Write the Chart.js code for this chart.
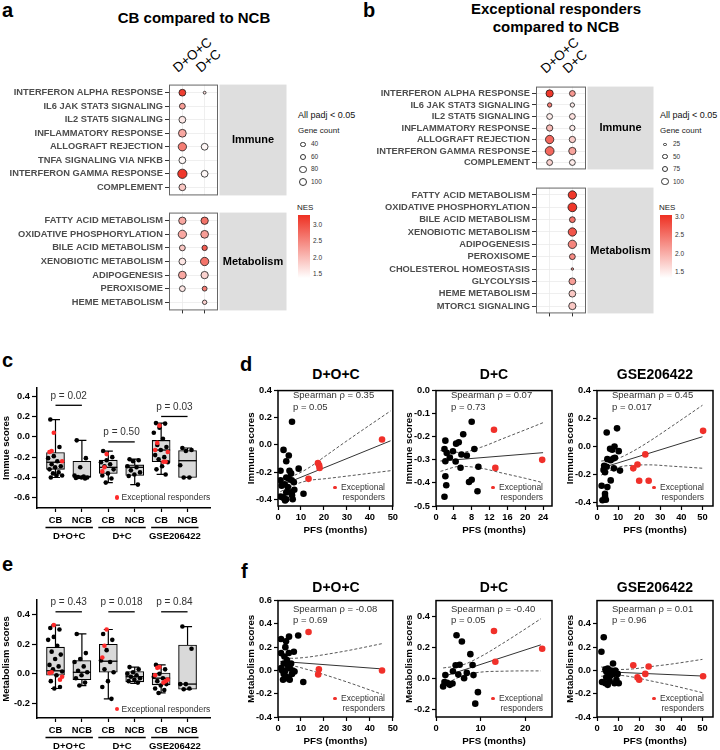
<!DOCTYPE html>
<html><head><meta charset="utf-8">
<script src="https://cdn.jsdelivr.net/npm/chart.js@4.4.1/dist/chart.umd.min.js"></script>
<style>
body{margin:0;width:720px;height:750px;position:relative;background:#fff;font-family:'Liberation Sans',Arial,sans-serif;overflow:hidden;-webkit-font-smoothing:antialiased}
canvas{position:absolute}
.t{position:absolute;white-space:nowrap;line-height:1}
.dot{position:absolute;border-radius:50%}
</style></head><body>
<script>
// ================= DATA =================
// ---- panel a: CB compared to NCB ----
const aImmunePathways = ['INTERFERON ALPHA RESPONSE','IL6 JAK STAT3 SIGNALING','IL2 STAT5 SIGNALING','INFLAMMATORY RESPONSE','ALLOGRAFT REJECTION','TNFA SIGNALING VIA NFKB','INTERFERON GAMMA RESPONSE','COMPLEMENT'];
const aMetabPathways = ['FATTY ACID METABOLISM','OXIDATIVE PHOSPHORYLATION','BILE ACID METABOLISM','XENOBIOTIC METABOLISM','ADIPOGENESIS','PEROXISOME','HEME METABOLISM'];
const cohorts = ['D+O+C','D+C'];
const aImmNesDOC = [3.2,2.3,1.6,2.2,2.6,1.45,3.25,1.9];
const aImmCntDOC = [69,51,69,90,102,69,128,69];
const aImmNesDC  = [1.7,null,null,null,1.45,null,1.45,null];
const aImmCntDC  = [12,null,null,null,69,null,69,null];
const aMetNesDOC = [2.2,2.2,1.9,1.6,2.2,1.6,null];
const aMetCntDOC = [80,102,51,69,90,51,null];
const aMetNesDC  = [2.7,2.3,2.9,2.7,1.8,2.6,1.8];
const aMetCntDC  = [80,90,43,102,80,35,29];
const aNesRange = [1.37,3.33];
const aCountLegend = [40,60,80,100];
// ---- panel b: Exceptional responders compared to NCB ----
const bImmunePathways = ['INTERFERON ALPHA RESPONSE','IL6 JAK STAT3 SIGNALING','IL2 STAT5 SIGNALING','INFLAMMATORY RESPONSE','ALLOGRAFT REJECTION','INTERFERON GAMMA RESPONSE','COMPLEMENT'];
const bMetabPathways = ['FATTY ACID METABOLISM','OXIDATIVE PHOSPHORYLATION','BILE ACID METABOLISM','XENOBIOTIC METABOLISM','ADIPOGENESIS','PEROXISOME','CHOLESTEROL HOMEOSTASIS','GLYCOLYSIS','HEME METABOLISM','MTORC1 SIGNALING'];
const bImmNesDOC = [3.0,2.4,1.5,1.9,2.6,2.6,1.7];
const bImmCntDOC = [100,36,64,75,129,145,64];
const bImmNesDC  = [2.2,1.5,1.6,1.5,1.75,2.1,1.5];
const bImmCntDC  = [64,36,64,54,75,100,64];
const bMetNesDOC = [null,null,null,null,null,null,null,null,null,null];
const bMetCntDOC = [null,null,null,null,null,null,null,null,null,null];
const bMetNesDC  = [3.0,3.0,2.5,2.75,2.35,2.3,2.2,2.15,1.8,1.8];
const bMetCntDC  = [129,145,64,129,129,64,11,87,87,100];
const bNesRange = [1.34,3.06];
const bCountLegend = [25,50,75,100];
const nesTicks = [1.5,2.0,2.5,3.0];
// ---- panels c / e: box plots ----
const boxCategories = ['CB','NCB','CB','NCB','CB','NCB'];
const boxGroups = ['D+O+C','D+C','GSE206422'];
const cMin = [-0.40,-0.41,-0.45,-0.47,-0.37,-0.40];
const cQ1  = [-0.32,-0.40,-0.36,-0.38,-0.245,-0.40];
const cMed = [-0.25,-0.39,-0.30,-0.30,-0.13,-0.235];
const cQ3  = [-0.155,-0.24,-0.23,-0.276,-0.035,-0.135];
const cMax = [0.17,-0.035,-0.14,-0.22,0.135,-0.11];
const cBlack = [
  [0.17,-0.10,-0.19,-0.21,-0.24,-0.27,-0.29,-0.30,-0.32,-0.35,-0.36,-0.38,-0.38,-0.40],
  [-0.035,-0.21,-0.30,-0.38,-0.39,-0.395,-0.40,-0.40,-0.405,-0.41],
  [-0.14,-0.20,-0.23,-0.25,-0.27,-0.29,-0.32,-0.36,-0.38,-0.41,-0.45],
  [-0.22,-0.23,-0.24,-0.29,-0.30,-0.33,-0.35,-0.37,-0.385,-0.47],
  [0.135,0.13,0.09,0.04,-0.02,-0.08,-0.10,-0.13,-0.18,-0.20,-0.22,-0.25,-0.29,-0.32,-0.37],
  [-0.11,-0.13,-0.14,-0.28,-0.40,-0.40]
];
const cRed = [[0.04,-0.14,-0.15,-0.24],[],[-0.17,-0.30,-0.34],[],[0.11,-0.06,-0.13,-0.15,-0.245,-0.245],[]];
const cPText = ['p = 0.02','p = 0.50','p = 0.03'];
const cPLineY = [0.31,-0.05,0.20];
const cYTicks = [-0.6,-0.4,-0.2,0.0,0.2,0.4];

const eMin = [-0.10,-0.08,-0.17,-0.065,-0.13,-0.105];
const eQ1  = [-0.01,-0.04,0.01,-0.055,-0.075,-0.105];
const eMed = [0.02,0.01,0.085,-0.02,-0.03,-0.07];
const eQ3  = [0.18,0.09,0.20,0.015,0.005,0.195];
const eMax = [0.33,0.27,0.30,0.045,0.06,0.32];
const eBlack = [
  [0.31,0.30,0.25,0.23,0.19,0.15,0.13,0.10,0.06,0.05,0.03,0.015,-0.01,-0.05,-0.09,-0.10],
  [0.27,0.14,0.10,0.08,0.05,0.02,0.01,-0.01,-0.03,-0.06,-0.08],
  [0.27,0.23,0.16,0.09,0.08,0.03,0.01,-0.05,-0.09,-0.17],
  [0.045,0.03,0.01,0.0,-0.01,-0.02,-0.03,-0.04,-0.05,-0.06],
  [0.06,0.03,0.0,-0.02,-0.03,-0.05,-0.07,-0.08,-0.10,-0.11,-0.13],
  [0.32,0.17,-0.07,-0.07,-0.10,-0.105]
];
const eRed = [[0.33,0.01,0.005,-0.02,-0.04],[],[0.30,0.19,0.11],[],[0.045,0.04,-0.01,-0.04,-0.05,-0.06],[]];
const ePText = ['p = 0.43','p = 0.018','p = 0.84'];
const ePLineY = [0.42,0.42,0.42];
const eYTicks = [-0.2,0.0,0.2,0.4];

// ---- panel d: immune scores vs PFS ----
const d1BlackPfs = [6.1,2.4,4.7,3.6,1.1,5.0,5.7,9.0,3.6,4.7,1.1,6.0,6.9,2.9,1.6,4.3,7.1,3.6,5.7,11.1,1.1,2.4,3.6,6.4,1.9,3.1,6.1];
const d1BlackScore = [0.17,-0.037,-0.078,-0.12,-0.19,-0.19,-0.21,-0.175,-0.24,-0.25,-0.26,-0.26,-0.275,-0.29,-0.30,-0.31,-0.33,-0.35,-0.35,-0.36,-0.38,-0.39,-0.40,-0.40,-0.385,-0.41,-0.37];
const d1RedPfs = [17.4,17.9,18.1,13.3,45.3];
const d1RedScore = [-0.134,-0.15,-0.17,-0.25,0.04];
const d1FitPfs = [1,49], d1FitScore = [-0.30,0.03];
const d1CiPfs = [1,7,13,20,30,49];
const d1CiUpper = [-0.255,-0.225,-0.173,-0.09,0.03,0.25];
const d1CiLower = [-0.345,-0.295,-0.263,-0.25,-0.23,-0.19];

const d2BlackPfs = [2.1,1.9,5.1,6.1,3.8,2.4,5.7,6.9,3.1,2.1,4.4,5.5,2.1,2.3,1.9,8.0,7.4,9.3,8.0,8.6,9.5,4.5];
const d2BlackScore = [-0.217,-0.253,-0.224,-0.189,-0.263,-0.27,-0.277,-0.281,-0.29,-0.306,-0.307,-0.334,-0.371,-0.41,-0.46,-0.386,-0.396,-0.436,-0.135,-0.253,-0.33,-0.23];
const d2RedPfs = [13.0,13.3,23.8];
const d2RedScore = [-0.17,-0.335,-0.30];
const d2FitPfs = [1,24], d2FitScore = [-0.305,-0.269];
const d2CiPfs = [1,5.5,10,15,20,24];
const d2CiUpper = [-0.26,-0.268,-0.246,-0.208,-0.17,-0.139];
const d2CiLower = [-0.35,-0.328,-0.336,-0.358,-0.38,-0.399];

const d3BlackPfs = [4.6,9.5,6.2,8.3,7.2,10.3,3.4,3.1,3.8,4.9,6.5,7.7,8.5,8.0,10.9,6.5,2.2,4.9,3.8,2.6,4.2,3.8,4.6];
const d3BlackScore = [0.10,0.13,-0.016,0.0,-0.023,-0.033,-0.137,-0.167,-0.184,-0.09,-0.098,-0.086,-0.081,-0.156,-0.172,-0.242,-0.28,-0.29,-0.337,-0.384,-0.38,-0.358,-0.144];
const d3RedPfs = [17.2,19.2,22.9,20.0,24.5,50.3];
const d3RedScore = [-0.156,-0.128,-0.056,-0.244,-0.244,0.112];
const d3FitPfs = [2,50], d3FitScore = [-0.154,0.07];
const d3CiPfs = [2,10,17,25,35,50];
const d3CiUpper = [-0.104,-0.084,-0.034,0.039,0.14,0.295];
const d3CiLower = [-0.204,-0.148,-0.134,-0.131,-0.14,-0.155];

// ---- panel f: metabolism scores vs PFS ----
const f1BlackPfs = [1.3,3.5,4.8,8.8,3.2,4.7,6.9,1.3,2.8,2.5,4.2,5.7,1.8,3.2,5.1,6.4,7.2,2.5,3.5,4.4,2.2,5.1,1.3,11.0,6.1,3.9];
const f1BlackScore = [0.27,0.25,0.29,0.30,0.20,0.15,0.16,0.15,0.12,0.06,0.045,0.06,0.0,0.0,0.02,0.0,-0.01,-0.03,-0.05,-0.07,-0.08,-0.08,0.02,-0.10,-0.03,0.09];
const f1RedPfs = [13.3,17.8,17.5,45.3];
const f1RedScore = [0.33,0.01,-0.035,0.0];
const f1FitPfs = [1,45.3], f1FitScore = [0.078,0.013];
const f1CiPfs = [1,6,12,20,30,45.3];
const f1CiUpper = [0.125,0.104,0.112,0.135,0.169,0.23];
const f1CiLower = [0.031,0.038,0.012,-0.035,-0.099,-0.205];

const f2BlackPfs = [4.6,5.8,5.3,4.4,7.7,8.2,3.8,2.1,5.0,6.9,8.4,6.3,1.9,2.5,3.7,3.1,1.6,9.4,8.8];
const f2BlackScore = [0.277,0.236,0.087,0.083,0.155,0.085,0.045,0.02,0.023,0.034,0.02,0.0,-0.025,-0.03,-0.034,-0.043,-0.053,-0.09,-0.164];
const f2RedPfs = [13.0,13.3,23.8];
const f2RedScore = [0.304,0.106,0.19];
const f2FitPfs = [1.6,23.5], f2FitScore = [0.01,0.215];
const f2CiPfs = [1.6,6,10,15,20,23.5];
const f2CiUpper = [0.066,0.086,0.139,0.225,0.317,0.383];
const f2CiLower = [-0.045,0.016,0.039,0.045,0.047,0.047];

const f3BlackPfs = [2.1,3.2,7.6,2.4,4.0,5.1,4.4,5.6,6.7,8.7,4.0,7.9,9.8,4.4,6.0,9.2,10.3,8.3,6.3,5.1];
const f3BlackScore = [0.16,0.285,0.06,-0.10,-0.11,-0.124,-0.06,-0.03,0.0,0.0,0.01,-0.03,-0.03,-0.01,-0.09,-0.08,-0.11,-0.11,-0.045,0.017];
const f3RedPfs = [17.2,19.2,20.0,22.9,24.5,50.3];
const f3RedScore = [0.045,-0.06,-0.08,-0.03,0.034,-0.05];
const f3FitPfs = [2,50], f3FitScore = [-0.01,-0.048];
const f3CiPfs = [2,10,17,25,35,50];
const f3CiUpper = [0.03,0.008,0.013,0.032,0.054,0.095];
const f3CiLower = [-0.05,-0.042,-0.057,-0.088,-0.126,-0.191];

const spearman = {d1:['Spearman ρ = 0.35','p = 0.05'], d2:['Spearman ρ = 0.07','p = 0.73'], d3:['Spearman ρ = 0.45','p = 0.017'],
                  f1:['Spearman ρ = -0.08','p = 0.69'], f2:['Spearman ρ = -0.40','p = 0.05'], f3:['Spearman ρ = 0.01','p = 0.96']};

// ================= HELPERS =================
const FONT = "'Liberation Sans', Arial, sans-serif";
Chart.defaults.font.family = FONT;
Chart.defaults.animation = false;
Chart.defaults.responsive = false;
Chart.defaults.plugins.legend.display = false;
Chart.defaults.plugins.tooltip.enabled = false;
Chart.defaults.color = '#000';
const RED = '#F0302A';

function mkCanvas(a, m){
  const c = document.createElement('canvas');
  const w = a.w + m.l + m.r, h = a.h + m.t + m.b;
  c.width = w; c.height = h;
  c.style.left = (a.x - m.l) + 'px'; c.style.top = (a.y - m.t) + 'px';
  c.style.width = w + 'px'; c.style.height = h + 'px';
  document.body.appendChild(c);
  return c;
}
function txt(s, x, cy, o = {}){
  const d = document.createElement('div');
  d.className = 't'; d.textContent = s;
  const size = o.size || 10;
  d.style.fontSize = size + 'px';
  d.style.fontWeight = o.bold ? 'bold' : 'normal';
  d.style.color = o.color || '#000';
  d.style.left = x + 'px';
  d.style.top = (cy - (o.lower ? 0.59 : 0.49) * size) + 'px';
  if (o.align === 'center') d.style.transform = 'translateX(-50%)';
  if (o.align === 'right') d.style.transform = 'translateX(-100%)';
  document.body.appendChild(d);
  return d;
}
function rotTxt(s, x, baseY, size, deg){
  const d = document.createElement('div');
  d.className = 't'; d.textContent = s;
  d.style.fontSize = size + 'px';
  d.style.left = x + 'px'; d.style.top = (baseY - 0.8465 * size) + 'px';
  d.style.transformOrigin = '0px ' + (0.8465 * size) + 'px';
  d.style.transform = 'rotate(' + (-deg) + 'deg)';
  document.body.appendChild(d);
}
function dot(cx, cy, r, fill, border){
  const d = document.createElement('div');
  d.className = 'dot';
  d.style.left = (cx - r) + 'px'; d.style.top = (cy - r) + 'px';
  d.style.width = (2 * r) + 'px'; d.style.height = (2 * r) + 'px';
  d.style.background = fill;
  d.style.boxSizing = 'border-box';
  if (border) d.style.border = border;
  document.body.appendChild(d);
}
function nesColor(v, range){
  const t = Math.max(0, Math.min(1, (v - range[0]) / (range[1] - range[0])));
  const lo = [255,255,255], hi = [238,48,34];
  const c = lo.map((l, i) => Math.round(l + (hi[i] - l) * t));
  return 'rgb(' + c.join(',') + ')';
}
const zip = (xs, ys) => xs.map((x, i) => ({x, y: ys[i]}));
const jit = j => (((j * 0.6180339887 + 0.15) % 1) - 0.5) * 0.56;

// ---------- dot-plot facet ----------
function dotFacet(o){
  const m = {l:o.ml, r:o.mr, t:o.mt, b:o.mb};
  const cv = mkCanvas(o.area, m);
  const n = o.labels.length;
  const datasets = o.nes.map((arr, c) => ({
    data: arr.map((v, i) => v == null ? null : {x:c, y:i, r:o.k * Math.sqrt(o.cnt[c][i]), v}).filter(Boolean),
    backgroundColor: ctx => (ctx.raw && ctx.raw.v != null) ? nesColor(ctx.raw.v, o.range) : '#fff',
    borderColor: '#1a1a1a', borderWidth: 0.8, clip: false
  }));
  const facetPlugin = {
    id:'facet',
    afterDraw(chart){
      const {ctx, chartArea:a} = chart;
      ctx.save();
      ctx.fillStyle = '#DEDEDE';
      ctx.fillRect(a.right + 1.5, a.top, o.stripW, a.bottom - a.top);
      ctx.strokeStyle = '#666'; ctx.lineWidth = 1;
      ctx.strokeRect(a.left + 0.5, a.top + 0.5, a.right - a.left - 1, a.bottom - a.top - 1);
      ctx.fillStyle = '#000'; ctx.font = 'bold 11px ' + FONT;
      ctx.textAlign = 'center'; ctx.textBaseline = 'middle';
      ctx.fillText(o.strip, a.right + 1.5 + o.stripW / 2, (a.top + a.bottom) / 2);
      ctx.restore();
    }
  };
  const ch = new Chart(cv, {
    type:'bubble', data:{datasets},
    options:{
      layout:{padding:{left:0, right:o.mr, top:o.mt, bottom:0}},
      scales:{
        x:{type:'linear', position:'bottom', min:-0.6, max:1.6,
          afterBuildTicks: s => { s.ticks = o.cols.map((_, i) => ({value:i})); },
          afterFit: s => { s.height = o.mb; },
          ticks:{display:false},
          grid:{color:'#EBEBEB', lineWidth:0.8, drawTicks:o.bottomTicks, tickLength:3, tickColor:'#333', tickWidth:1},
          border:{display:false}},
        y:{type:'linear', reverse:true, min:-0.6, max:n - 0.4,
          afterBuildTicks: s => { s.ticks = o.labels.map((_, i) => ({value:i})); },
          afterFit: s => { s.width = o.ml; },
          ticks:{autoSkip:false, callback: v => o.labels[v], font:{size:9.3, weight:'bold'}, color:'#4D4D4D', padding:2},
          grid:{color:'#EBEBEB', lineWidth:0.8, tickLength:4, tickColor:'#333', tickWidth:1},
          border:{display:false}}
      }
    },
    plugins:[facetPlugin]
  });
  return {chart: ch, left: o.area.x - o.ml};
}

// ---------- box plot ----------
function boxChart(o){
  const cv = mkCanvas(o.area, o.m);
  const black = [], red = [];
  o.black.forEach((arr, i) => arr.forEach((v, j) => black.push({x:i + jit(j), y:v})));
  o.red.forEach((arr, i) => arr.forEach((v, j) => red.push({x:i + jit(j * 3 + 2), y:v})));
  const boxPlugin = {
    id:'boxExtras',
    beforeDatasetsDraw(chart){
      const {ctx, scales:{x, y}} = chart;
      ctx.save(); ctx.strokeStyle = '#000'; ctx.lineWidth = 1.2;
      o.min.forEach((mn, i) => {
        const px = x.getPixelForValue(i);
        ctx.beginPath();
        ctx.moveTo(px, y.getPixelForValue(mn)); ctx.lineTo(px, y.getPixelForValue(o.max[i]));
        ctx.moveTo(px - 4.5, y.getPixelForValue(mn)); ctx.lineTo(px + 4.5, y.getPixelForValue(mn));
        ctx.moveTo(px - 4.5, y.getPixelForValue(o.max[i])); ctx.lineTo(px + 4.5, y.getPixelForValue(o.max[i]));
        ctx.stroke();
      });
      ctx.restore();
    },
    afterDatasetDraw(chart, args){
      if (args.index !== 2) return;
      const {ctx, scales:{x, y}} = chart;
      ctx.save(); ctx.strokeStyle = '#000'; ctx.lineWidth = 1.3;
      o.med.forEach((md, i) => {
        const px = x.getPixelForValue(i), py = y.getPixelForValue(md);
        ctx.beginPath(); ctx.moveTo(px - 9, py); ctx.lineTo(px + 9, py); ctx.stroke();
      });
      ctx.restore();
    },
    afterDraw(chart){
      const {ctx, chartArea:a, scales:{x, y}} = chart;
      ctx.save();
      ctx.strokeStyle = '#000'; ctx.lineWidth = 1.3; ctx.fillStyle = '#333';
      ctx.font = '10px ' + FONT; ctx.textAlign = 'center'; ctx.textBaseline = 'middle';
      o.pText.forEach((p, g) => {
        const x1 = x.getPixelForValue(2 * g), x2 = x.getPixelForValue(2 * g + 1), py = y.getPixelForValue(o.pY[g]);
        ctx.beginPath(); ctx.moveTo(x1, py); ctx.lineTo(x2, py); ctx.stroke();
        ctx.fillText(p, (x1 + x2) / 2, py - 9.5);
      });
      ctx.fillStyle = '#000'; ctx.font = 'bold 9.5px ' + FONT;
      o.groups.forEach((gname, g) => {
        const x1 = x.getPixelForValue(2 * g) - 10, x2 = x.getPixelForValue(2 * g + 1) + 11;
        const ly = a.bottom + 19.5;
        ctx.beginPath(); ctx.moveTo(x1, ly); ctx.lineTo(x2, ly); ctx.stroke();
        ctx.fillText(gname, (x1 + x2) / 2, ly + 8.5);
      });
      ctx.restore();
    }
  };
  new Chart(cv, {
    type:'bar',
    data:{datasets:[
      {type:'scatter', data:red, backgroundColor:'#FF2B2B', borderWidth:0, pointRadius:2.3},
      {type:'scatter', data:black, backgroundColor:'#000', borderWidth:0, pointRadius:2.3},
      {type:'bar', data:o.q1.map((q, i) => ({x:i, y:[q, o.q3[i]]})), backgroundColor:'#D9D9D9', borderColor:'#000', borderWidth:1.1, borderSkipped:false, barThickness:18}
    ]},
    options:{
      layout:{padding:{left:0, right:o.m.r, top:o.m.t, bottom:0}},
      scales:{
        x:{type:'linear', min:-0.7, max:5.85, offset:false,
          afterBuildTicks: s => { s.ticks = o.cats.map((_, i) => ({value:i})); },
          afterFit: s => { s.height = o.m.b; },
          ticks:{autoSkip:false, maxRotation:0, minRotation:0, callback: v => o.cats[v], font:{size:9.3, weight:'bold'}, color:'#000', padding:3},
          grid:{display:true, offset:false, drawOnChartArea:false, tickLength:4, tickColor:'#000', tickWidth:1.2},
          border:{display:true, color:'#000', width:1.5}},
        y:{type:'linear', min:o.yMin, max:o.yMax,
          afterBuildTicks: s => { s.ticks = o.yTicks.map(v => ({value:v})); },
          afterFit: s => { s.width = o.m.l; },
          ticks:{autoSkip:false, callback: v => v.toFixed(1), font:{size:9.3, weight:'bold'}, color:'#000', padding:2},
          grid:{display:true, drawOnChartArea:false, tickLength:5, tickColor:'#000', tickWidth:1.2},
          border:{display:true, color:'#000', width:1.5},
          title:{display:true, text:o.yTitle, font:{size:9.5, weight:'bold'}, color:'#000', padding:{top:1, bottom:0}}}
      }
    },
    plugins:[boxPlugin]
  });
}

// ---------- scatter with fit ----------
function scatterChart(o){
  const m = {l:38, r:6, t:6, b:30};
  const cv = mkCanvas(o.area, m);
  const frame = {
    id:'frame',
    afterDraw(chart){
      const {ctx, chartArea:a} = chart;
      ctx.save(); ctx.strokeStyle = '#000'; ctx.lineWidth = 1.5;
      ctx.strokeRect(a.left, a.top, a.right - a.left, a.bottom - a.top);
      ctx.restore();
    }
  };
  new Chart(cv, {
    type:'scatter',
    data:{datasets:[
      {data:zip(o.redX, o.redY), backgroundColor:RED, borderWidth:0, pointRadius:3.3},
      {data:zip(o.blackX, o.blackY), backgroundColor:'#000', borderWidth:0, pointRadius:3.3},
      {type:'line', data:zip(o.fitX, o.fitY), borderColor:'#333', borderWidth:1, pointRadius:0, fill:false},
      {type:'line', data:zip(o.ciX, o.ciUp), borderColor:'#444', borderWidth:0.9, borderDash:[3,2], pointRadius:0, fill:false, cubicInterpolationMode:'monotone'},
      {type:'line', data:zip(o.ciX, o.ciLo), borderColor:'#444', borderWidth:0.9, borderDash:[3,2], pointRadius:0, fill:false, cubicInterpolationMode:'monotone'}
    ]},
    options:{
      layout:{padding:{left:0, right:m.r, top:m.t, bottom:0}},
      scales:{
        x:{type:'linear', min:o.xMin, max:o.xMax,
          afterBuildTicks: s => { s.ticks = o.xTicks.map(v => ({value:v})); },
          afterFit: s => { s.height = m.b; },
          ticks:{autoSkip:false, maxRotation:0, callback: v => String(v), font:{size:9.3, weight:'bold'}, color:'#000', padding:2},
          grid:{display:true, drawOnChartArea:false, tickLength:4, tickColor:'#000', tickWidth:1.2},
          border:{display:false},
          title:{display:true, text:'PFS (months)', font:{size:9.8, weight:'bold'}, color:'#000', padding:{top:0, bottom:0}}},
        y:{type:'linear', min:o.yMin, max:o.yMax,
          afterBuildTicks: s => { s.ticks = o.yTicks.map(v => ({value:v})); },
          afterFit: s => { s.width = m.l; },
          ticks:{autoSkip:false, callback: v => v.toFixed(1), font:{size:9.3, weight:'bold'}, color:'#000', padding:2},
          grid:{display:true, drawOnChartArea:false, tickLength:4, tickColor:'#000', tickWidth:1.2},
          border:{display:false},
          title:{display:true, text:o.yTitle, font:{size:9.8, weight:'bold'}, color:'#000', padding:{top:5, bottom:0}}}
      }
    },
    plugins:[frame]
  });
  const a = o.area;
  txt(o.title, a.x + a.w / 2, o.titleY, {size:14, bold:true, align:'center'});
  txt(o.stats[0], a.x + 15, a.y + o.statOff, {size:9.5, color:'#333'});
  txt(o.stats[1], a.x + 15, a.y + o.statOff + 11.5, {size:9.5, color:'#333'});
  txt('Exceptional', a.x + a.w - 9, a.y + a.h - 18.5, {size:8.5, color:'#333', align:'right'});
  txt('responders', a.x + a.w - 9, a.y + a.h - 8.5, {size:8.5, color:'#333', align:'right'});
  dot(a.x + a.w - 9 - 50, a.y + a.h - 18.5, 1.8, RED);
}

// ================= PANEL LETTERS & TITLES =================
function letter(s, x, baseline){ const d = txt(s, x, 0, {size:20, bold:true}); d.style.top = (baseline - 0.8465 * 20) + 'px'; }
letter('a', 2, 17); letter('b', 363, 17);
letter('c', 2, 367); letter('d', 240, 371);
letter('e', 2, 571); letter('f', 241, 578);
txt('CB compared to NCB', 194, 17, {size:15, bold:true, align:'center'});
txt('Exceptional responders', 556, 8.5, {size:15, bold:true, align:'center'});
txt('compared to NCB', 556, 26, {size:15, bold:true, align:'center'});

// ================= PANEL a =================
const aImm = dotFacet({area:{x:169, y:79, w:49, h:122}, ml:169, mr:70, mt:2, mb:2,
  labels:aImmunePathways, cols:cohorts, nes:[aImmNesDOC, aImmNesDC], cnt:[aImmCntDOC, aImmCntDC],
  range:aNesRange, k:0.41, strip:'Immune', stripW:67, bottomTicks:false});
dotFacet({area:{x:169, y:207, w:49, h:106}, ml:169, mr:70, mt:2, mb:5,
  labels:aMetabPathways, cols:cohorts, nes:[aMetNesDOC, aMetNesDC], cnt:[aMetCntDOC, aMetCntDC],
  range:aNesRange, k:0.41, strip:'Metabolism', stripW:67, bottomTicks:true});
cohorts.forEach((c, i) => rotTxt(c, aImm.left + aImm.chart.scales.x.getPixelForValue(i) - 4, 73, 13.5, 40));

// ================= PANEL b =================
const bImm = dotFacet({area:{x:536, y:81, w:50, h:94}, ml:176, mr:68, mt:2, mb:2,
  labels:bImmunePathways, cols:cohorts, nes:[bImmNesDOC, bImmNesDC], cnt:[bImmCntDOC, bImmCntDC],
  range:bNesRange, k:0.365, strip:'Immune', stripW:66, bottomTicks:false});
dotFacet({area:{x:536, y:182, w:50, h:134}, ml:176, mr:68, mt:2, mb:5,
  labels:bMetabPathways, cols:cohorts, nes:[bMetNesDOC, bMetNesDC], cnt:[bMetCntDOC, bMetCntDC],
  range:bNesRange, k:0.365, strip:'Metabolism', stripW:66, bottomTicks:true});
cohorts.forEach((c, i) => rotTxt(c, bImm.left + bImm.chart.scales.x.getPixelForValue(i) - 4, 74, 13.5, 42));

// ---------- legends for a / b ----------
function dotLegend(x0, counts, k, range){
  txt('All padj < 0.05', x0, 115, {size:9, color:'#111'});
  txt('Gene count', x0, 130.5, {size:8, color:'#222'});
  const ys = [144.5, 156.7, 169.3, 181.7];
  counts.forEach((c, i) => {
    dot(x0 + 5, ys[i], k * Math.sqrt(c), '#fff', '1px solid #333');
    txt(String(c), x0 + 13, ys[i], {size:6.5, color:'#333'});
  });
  txt('NES', x0 - 1, 208, {size:8, color:'#222'});
  const bar = document.createElement('div');
  bar.style.position = 'absolute'; bar.style.left = x0 + 'px'; bar.style.top = '215px';
  bar.style.width = '12px'; bar.style.height = '63px';
  bar.style.background = 'linear-gradient(to top,' + nesColor(range[0], range) + ',' + nesColor(range[1], range) + ')';
  document.body.appendChild(bar);
  nesTicks.forEach(v => {
    const y = 215 + (range[1] - v) / (range[1] - range[0]) * 63;
    txt(v.toFixed(1), x0 + 15, y, {size:6.5, color:'#333'});
  });
}
dotLegend(298, aCountLegend, 0.41, aNesRange);
dotLegend(660, bCountLegend, 0.365, bNesRange);

// ================= PANEL c / e =================
boxChart({area:{x:37, y:388, w:173, h:120}, m:{l:37, r:8, t:10, b:36},
  q1:cQ1, q3:cQ3, med:cMed, min:cMin, max:cMax, black:cBlack, red:cRed,
  cats:boxCategories, groups:boxGroups, yMin:-0.7, yMax:0.48, yTicks:cYTicks,
  yTitle:'Immue scores', pText:cPText, pY:cPLineY});
dot(117, 497.5, 2.1, '#FF2B2B');
txt('Exceptional responders', 121.5, 497.5, {size:8.5, color:'#333'});

boxChart({area:{x:37, y:600, w:173, h:118}, m:{l:37, r:8, t:10, b:32},
  q1:eQ1, q3:eQ3, med:eMed, min:eMin, max:eMax, black:eBlack, red:eRed,
  cats:boxCategories, groups:boxGroups, yMin:-0.3, yMax:0.5, yTicks:eYTicks,
  yTitle:'Metabolism scores', pText:ePText, pY:ePLineY});
dot(117, 709, 2.1, '#FF2B2B');
txt('Exceptional responders', 121.5, 709, {size:8.5, color:'#333'});

// ================= PANEL d =================
const pfs50 = [0,10,20,30,40,50];
scatterChart({area:{x:278, y:389, w:116, h:117}, title:'D+O+C', titleY:374, statOff:6, stats:spearman.d1,
  blackX:d1BlackPfs, blackY:d1BlackScore, redX:d1RedPfs, redY:d1RedScore,
  fitX:d1FitPfs, fitY:d1FitScore, ciX:d1CiPfs, ciUp:d1CiUpper, ciLo:d1CiLower,
  xMin:0, xMax:50, xTicks:pfs50, yMin:-0.45, yMax:0.4, yTicks:[-0.4,-0.2,0.0,0.2,0.4], yTitle:'Immune scores'});
scatterChart({area:{x:436, y:389, w:116, h:117}, title:'D+C', titleY:374, statOff:6, stats:spearman.d2,
  blackX:d2BlackPfs, blackY:d2BlackScore, redX:d2RedPfs, redY:d2RedScore,
  fitX:d2FitPfs, fitY:d2FitScore, ciX:d2CiPfs, ciUp:d2CiUpper, ciLo:d2CiLower,
  xMin:0, xMax:26, xTicks:[0,4,8,12,16,20,24], yMin:-0.5, yMax:0.0, yTicks:[-0.5,-0.4,-0.3,-0.2,-0.1,0.0], yTitle:'Immune scores'});
scatterChart({area:{x:597, y:389, w:116, h:117}, title:'GSE206422', titleY:374, statOff:6, stats:spearman.d3,
  blackX:d3BlackPfs, blackY:d3BlackScore, redX:d3RedPfs, redY:d3RedScore,
  fitX:d3FitPfs, fitY:d3FitScore, ciX:d3CiPfs, ciUp:d3CiUpper, ciLo:d3CiLower,
  xMin:0, xMax:55, xTicks:pfs50, yMin:-0.425, yMax:0.4, yTicks:[-0.4,-0.2,0.0,0.2,0.4], yTitle:'Immune scores'});

// ================= PANEL f =================
scatterChart({area:{x:278, y:599, w:116, h:118}, title:'D+O+C', titleY:587, statOff:9.5, stats:spearman.f1,
  blackX:f1BlackPfs, blackY:f1BlackScore, redX:f1RedPfs, redY:f1RedScore,
  fitX:f1FitPfs, fitY:f1FitScore, ciX:f1CiPfs, ciUp:f1CiUpper, ciLo:f1CiLower,
  xMin:0, xMax:50, xTicks:pfs50, yMin:-0.4, yMax:0.6, yTicks:[-0.4,-0.2,0.0,0.2,0.4,0.6], yTitle:'Metabolism scores'});
scatterChart({area:{x:436, y:599, w:116, h:118}, title:'D+C', titleY:587, statOff:9.5, stats:spearman.f2,
  blackX:f2BlackPfs, blackY:f2BlackScore, redX:f2RedPfs, redY:f2RedScore,
  fitX:f2FitPfs, fitY:f2FitScore, ciX:f2CiPfs, ciUp:f2CiUpper, ciLo:f2CiLower,
  xMin:0, xMax:26, xTicks:[0,10,20], yMin:-0.25, yMax:0.5, yTicks:[-0.2,0.0,0.2,0.4], yTitle:'Metabolism scores'});
scatterChart({area:{x:597, y:599, w:116, h:118}, title:'GSE206422', titleY:587, statOff:9.5, stats:spearman.f3,
  blackX:f3BlackPfs, blackY:f3BlackScore, redX:f3RedPfs, redY:f3RedScore,
  fitX:f3FitPfs, fitY:f3FitScore, ciX:f3CiPfs, ciUp:f3CiUpper, ciLo:f3CiLower,
  xMin:0, xMax:55, xTicks:pfs50, yMin:-0.4, yMax:0.6, yTicks:[-0.4,-0.2,0.0,0.2,0.4], yTitle:'Metabolism scores'});
</script>
</body></html>
